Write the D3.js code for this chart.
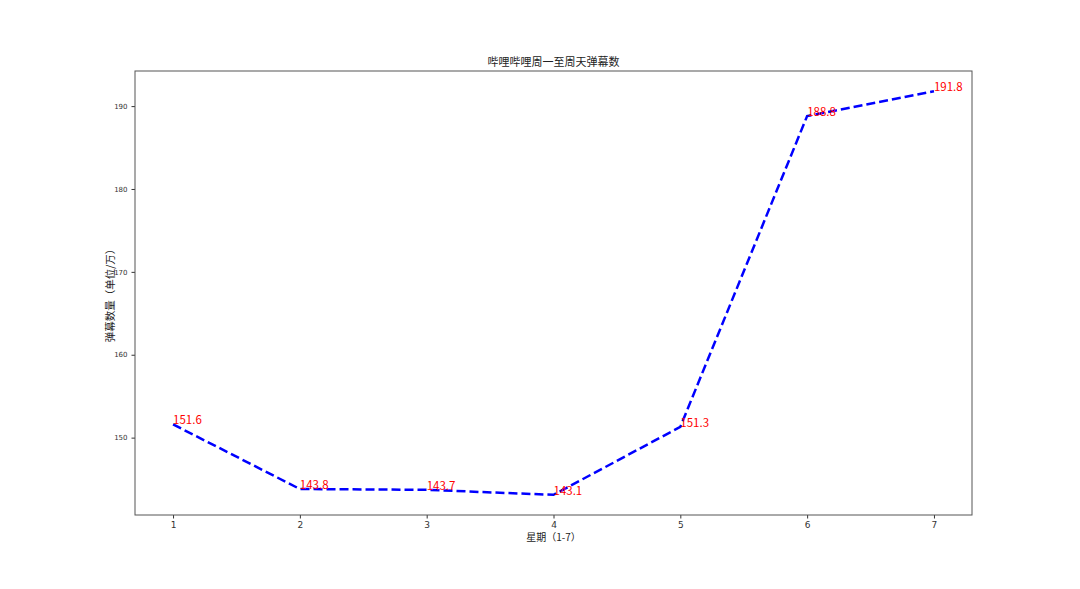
<!DOCTYPE html>
<html><head><meta charset="utf-8">
<script src="https://cdn.jsdelivr.net/npm/d3@7"></script>
<style>body{margin:0;background:#fff}</style>
</head><body><svg id="c" width="1080" height="589"></svg>
<script>
const days = [1,2,3,4,5,6,7];
const values = [151.6,143.8,143.7,143.1,151.3,188.8,191.8];
const yTicks = [150,160,170,180,190];
const title = "哔哩哔哩周一至周天弹幕数";
const xLabel = "星期（1-7）";
const yLabel = "弹幕数量（单位/万）";

const svg = d3.select("#c");
const L=135,R=972,T=71,B=515;
const ext = d3.extent(values), pad=(ext[1]-ext[0])*0.05;
const x = d3.scaleLinear().domain([0.7,7.3]).range([L,R]);
const y = d3.scaleLinear().domain([ext[0]-pad, ext[1]+pad]).range([B,T]);
const cjk = "'Noto Sans CJK SC', sans-serif";

const gx = svg.append("g").attr("transform",`translate(0,${B})`)
  .call(d3.axisBottom(x).tickValues(days).tickFormat(d3.format("d")).tickSize(3.5).tickPadding(3));
gx.selectAll("text").attr("font-size",9).attr("font-family","'DejaVu Sans', sans-serif").attr("fill","#333");
const gy = svg.append("g").attr("transform",`translate(${L},0)`)
  .call(d3.axisLeft(y).tickValues(yTicks).tickSize(3.5).tickPadding(4));
gy.selectAll("text").attr("font-size",7).attr("font-family","'DejaVu Sans', sans-serif").attr("fill","#333");
[gx,gy].forEach(g=>{g.select(".domain").remove();g.selectAll("line").attr("stroke","#333");});

svg.append("rect").attr("x",L).attr("y",T).attr("width",R-L).attr("height",B-T)
  .attr("fill","none").attr("stroke","#555").attr("stroke-width",1);

const line = d3.line().x((d,i)=>x(days[i])).y(d=>y(d));
svg.append("path").datum(values).attr("d",line).attr("fill","none")
  .attr("stroke","#0000ff").attr("stroke-width",2.5).attr("stroke-dasharray","9,4");

svg.selectAll(".lbl").data(values).enter().append("text")
  .attr("x",(d,i)=>x(days[i])).attr("y",d=>y(d))
  .attr("fill","#ff0000").attr("font-size",11.5).attr("font-family",cjk)
  .text(d=>d.toFixed(1));

svg.append("text").attr("x",(L+R)/2).attr("y",T-5).attr("text-anchor","middle")
  .attr("font-size",11).attr("font-family",cjk).attr("fill","#222").text(title);
svg.append("text").attr("x",(L+R)/2).attr("y",541).attr("text-anchor","middle")
  .attr("font-size",10).attr("font-family",cjk).attr("fill","#222").text(xLabel);
svg.append("text").attr("transform",`translate(114,${(T+B)/2}) rotate(-90)`).attr("text-anchor","middle")
  .attr("font-size",10.5).attr("font-family",cjk).attr("fill","#222").text(yLabel);
</script></body></html>
